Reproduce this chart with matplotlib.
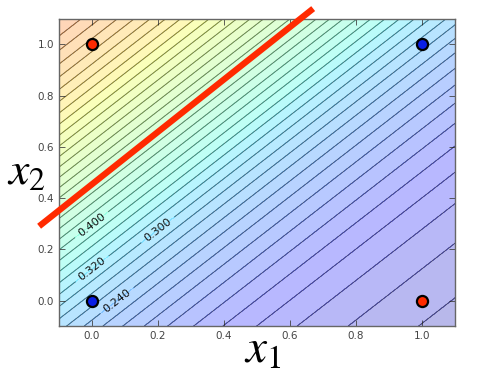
import numpy as np
import matplotlib
matplotlib.use('Agg')
import matplotlib.pyplot as plt

plt.rcParams['mathtext.fontset'] = 'stix'

# logistic model weights for the background surface
w1, w2, bias = -2.0, 2.0, -1.0
levels = np.round(np.linspace(0, 1, 51), 2)

# XOR points
pts_x1 = [0.0, 1.0, 0.0, 1.0]
pts_x2 = [0.0, 1.0, 1.0, 0.0]
pts_color = ['#0a1ee6', '#0a1ee6', '#ff2a00', '#ff2a00']

# separating line (end points)
line_x1 = [-0.16, 0.67]
line_x2 = [0.29, 1.14]

# labelled contour levels and where their labels sit
label_levels = [0.24, 0.30, 0.32, 0.40]
label_pos = [(0.07, 0.01), (0.2, 0.275), (0.0, 0.125), (0.0, 0.294)]

ticks = [0.0, 0.2, 0.4, 0.6, 0.8, 1.0]

# grid
xx, yy = np.meshgrid(np.linspace(-0.1, 1.1, 300), np.linspace(-0.1, 1.1, 300))
zz = 1.0 / (1.0 + np.exp(-(w1 * xx + w2 * yy + bias)))

fig = plt.figure(figsize=(4.91, 3.77), dpi=100)
ax = fig.add_axes([0.120, 0.135, 0.807, 0.815])

ax.contourf(xx, yy, zz, levels=levels, cmap='jet', alpha=0.28, vmin=-0.02, vmax=1)

# unlabelled lines, then the labelled ones as their own set
plain = [l for l in levels if l not in label_levels]
ax.contour(xx, yy, zz, levels=plain, colors='black', linewidths=0.7, alpha=0.5)
cs = ax.contour(xx, yy, zz, levels=label_levels, colors='black', linewidths=0.7, alpha=0.5)
labels = ax.clabel(cs, manual=label_pos, fmt='%.3f', fontsize=8, colors='#111111')
for t in labels:
    t.set_alpha(1.0)

ax.plot(line_x1, line_x2, color='#ff2a00', linewidth=4.5, clip_on=False, solid_capstyle='butt', zorder=5)

for x, y, c in zip(pts_x1, pts_x2, pts_color):
    ax.plot(x, y, 'o', color=c, markersize=8, markeredgecolor='black', markeredgewidth=1.6, zorder=6)

ax.set_xlim(-0.1, 1.1)
ax.set_ylim(-0.1, 1.1)
ax.set_xticks(ticks)
ax.set_yticks(ticks)
ax.set_xticklabels(['%.1f' % t for t in ticks])
ax.set_yticklabels(['%.1f' % t for t in ticks])
ax.tick_params(direction='in', top=True, right=True, labelsize=7.5, colors='#444444', length=4, width=0.6)
for s in ax.spines.values():
    s.set_color('#666666')
    s.set_linewidth(1.0)

fig.text(0.534, 0.072, '$x_1$', fontsize=34, ha='center', va='center')
fig.text(0.054, 0.545, '$x_2$', fontsize=33, ha='center', va='center')

plt.savefig('out.png', dpi=100)
